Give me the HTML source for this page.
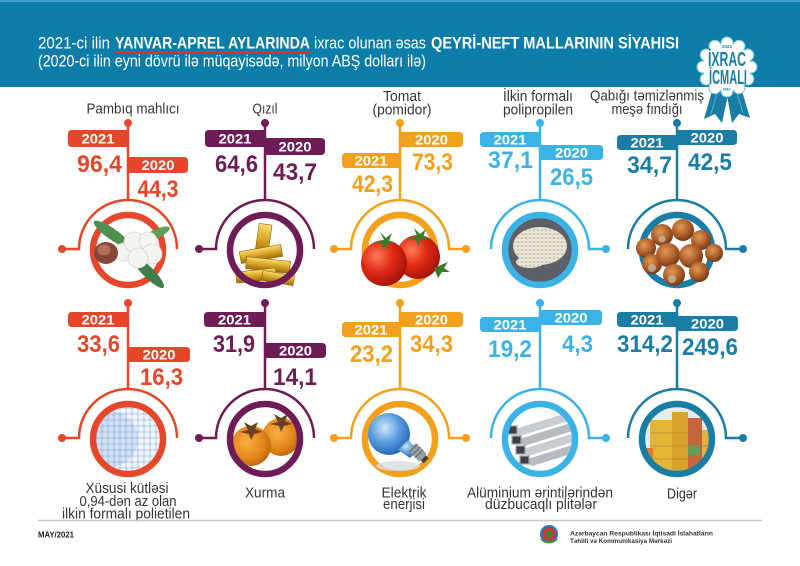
<!DOCTYPE html>
<html><head><meta charset="utf-8">
<style>
html,body{margin:0;padding:0;background:#fff;}
svg{display:block;}
text{font-family:"Liberation Sans","DejaVu Sans",sans-serif;}
.t{font-size:13.5px;font-weight:bold;fill:#fff;text-anchor:middle;}
.v{font-size:24.5px;font-weight:bold;text-anchor:middle;}
.l{font-size:14.5px;fill:#353535;text-anchor:middle;}
.h{font-size:17px;fill:#fff;}
</style></head><body>
<svg width="800" height="566" viewBox="0 0 800 566" xmlns="http://www.w3.org/2000/svg">
<defs>
<clipPath id="c4"><circle cx="540" cy="250" r="32"/></clipPath>
<clipPath id="c6"><circle cx="128" cy="439" r="32"/></clipPath>
<clipPath id="c7"><circle cx="265" cy="439" r="32"/></clipPath>
<clipPath id="c9"><circle cx="540" cy="439" r="32"/></clipPath>
<clipPath id="c10"><circle cx="677" cy="439" r="32"/></clipPath>
<linearGradient id="gold" x1="0" y1="0" x2="0" y2="1"><stop offset="0" stop-color="#f8dc70"/><stop offset="0.5" stop-color="#d9a526"/><stop offset="1" stop-color="#9c6c0c"/></linearGradient>
<radialGradient id="tom" cx="0.35" cy="0.35" r="0.7"><stop offset="0" stop-color="#ff7a55"/><stop offset="0.5" stop-color="#e02a14"/><stop offset="1" stop-color="#a5130a"/></radialGradient>
<radialGradient id="nut" cx="0.4" cy="0.35" r="0.7"><stop offset="0" stop-color="#e39a55"/><stop offset="0.6" stop-color="#a95a28"/><stop offset="1" stop-color="#6a3214"/></radialGradient>
<radialGradient id="pers" cx="0.4" cy="0.4" r="0.7"><stop offset="0" stop-color="#f7b040"/><stop offset="0.6" stop-color="#e4861a"/><stop offset="1" stop-color="#b45e0c"/></radialGradient>
<radialGradient id="bulb" cx="0.4" cy="0.35" r="0.7"><stop offset="0" stop-color="#cfe6fb"/><stop offset="0.5" stop-color="#5a9ee0"/><stop offset="1" stop-color="#1f5fb0"/></radialGradient>
<pattern id="pe" width="6" height="6" patternUnits="userSpaceOnUse"><rect width="6" height="6" fill="#c4d8ee"/><circle cx="3" cy="3" r="2.5" fill="#f3f7fc"/></pattern>
<pattern id="pp" width="4" height="4" patternUnits="userSpaceOnUse"><rect width="4" height="4" fill="#ebe6d8"/><circle cx="2" cy="2" r="1.3" fill="#cfc7b2"/></pattern>
</defs>

<!-- Header -->
<rect x="0" y="0" width="800" height="87" fill="#0b7da8"/>
<rect x="0" y="0" width="800" height="2" fill="#3f9dc4"/>
<text class="h" x="38" y="48.5" textLength="72" lengthAdjust="spacingAndGlyphs">2021-ci ilin</text>
<text class="h" x="115" y="48.5" font-weight="bold" textLength="195" lengthAdjust="spacingAndGlyphs">YANVAR-APREL AYLARINDA</text>
<rect x="115" y="51" width="195" height="2" fill="#e0302a"/>
<text class="h" x="314" y="48.5" textLength="112" lengthAdjust="spacingAndGlyphs">ixrac olunan əsas</text>
<text class="h" x="431" y="48.5" font-weight="bold" textLength="248" lengthAdjust="spacingAndGlyphs">QEYRİ-NEFT MALLARININ SİYAHISI</text>
<text class="h" x="38" y="66.5" textLength="388" lengthAdjust="spacingAndGlyphs">(2020-ci ilin eyni dövrü ilə müqayisədə, milyon ABŞ dolları ilə)</text>

<!-- Badge -->
<polygon points="714,84 729,90 722,123 715,114 704,119" fill="#1a7da6"/>
<polygon points="726,90 740,84 750,118 739,114 732,123" fill="#1a7da6"/>
<line x1="718" y1="90" x2="711" y2="114" stroke="#5aaed0" stroke-width="1"/>
<line x1="736" y1="90" x2="743" y2="113" stroke="#5aaed0" stroke-width="1"/>
<g fill="#7cc3e0">
<circle cx="727" cy="67" r="24.5"/>
<circle cx="727" cy="43" r="6.5"/><circle cx="739" cy="46.2" r="6.5"/><circle cx="747.8" cy="55" r="6.5"/><circle cx="751" cy="67" r="6.5"/><circle cx="747.8" cy="79" r="6.5"/><circle cx="739" cy="87.8" r="6.5"/><circle cx="727" cy="91" r="6.5"/><circle cx="715" cy="87.8" r="6.5"/><circle cx="706.2" cy="79" r="6.5"/><circle cx="703" cy="67" r="6.5"/><circle cx="706.2" cy="55" r="6.5"/><circle cx="715" cy="46.2" r="6.5"/>
</g>
<g fill="#fff">
<circle cx="727" cy="67" r="23.5"/>
<circle cx="727" cy="43" r="5.5"/><circle cx="739" cy="46.2" r="5.5"/><circle cx="747.8" cy="55" r="5.5"/><circle cx="751" cy="67" r="5.5"/><circle cx="747.8" cy="79" r="5.5"/><circle cx="739" cy="87.8" r="5.5"/><circle cx="727" cy="91" r="5.5"/><circle cx="715" cy="87.8" r="5.5"/><circle cx="706.2" cy="79" r="5.5"/><circle cx="703" cy="67" r="5.5"/><circle cx="706.2" cy="55" r="5.5"/><circle cx="715" cy="46.2" r="5.5"/>
</g>
<text x="727" y="48" font-size="4.5" font-weight="bold" fill="#1a7da6" text-anchor="middle">2021</text>
<text x="727" y="66" font-size="20" font-weight="bold" fill="#1a7da6" text-anchor="middle" textLength="38" lengthAdjust="spacingAndGlyphs">İXRAC</text>
<text x="728" y="84" font-size="20" font-weight="bold" fill="#1a7da6" text-anchor="middle" textLength="38" lengthAdjust="spacingAndGlyphs">İCMALI</text>
<text x="727" y="90.5" font-size="3.5" font-weight="bold" fill="#1a7da6" text-anchor="middle">MAY</text>

<!-- Row 1 labels -->
<text class="l" x="133" y="113.5" textLength="93" lengthAdjust="spacingAndGlyphs">Pambıq mahlıcı</text>
<text class="l" x="265" y="113.5" textLength="25" lengthAdjust="spacingAndGlyphs">Qızıl</text>
<text class="l" x="402" y="101" textLength="38" lengthAdjust="spacingAndGlyphs">Tomat</text>
<text class="l" x="402" y="114.5" textLength="59" lengthAdjust="spacingAndGlyphs">(pomidor)</text>
<text class="l" x="538" y="101" textLength="70" lengthAdjust="spacingAndGlyphs">İlkin formalı</text>
<text class="l" x="538" y="114.5" textLength="70" lengthAdjust="spacingAndGlyphs">polipropilen</text>
<text class="l" x="647" y="100.5" textLength="114" lengthAdjust="spacingAndGlyphs">Qabığı təmizlənmiş</text>
<text class="l" x="647" y="114" textLength="71" lengthAdjust="spacingAndGlyphs">meşə fındığı</text>

<!-- ===== ROW 1 ===== -->
<!-- Col1 red -->
<g fill="#e6472b" stroke="none">
<circle cx="128" cy="123" r="4"/>
<path d="M128,130 H72 Q68,130 68,134 V143 Q68,147 72,147 H128Z"/>
<path d="M128,157 H184 Q188,157 188,161 V169 Q188,173 184,173 H128Z"/>
<circle cx="62" cy="249" r="4"/>
</g>
<line x1="128" y1="123" x2="128" y2="200" stroke="#e6472b" stroke-width="2.5"/>
<path d="M62,249 H79 A49,49 0 0 1 177,249" fill="none" stroke="#e6472b" stroke-width="2.5"/>
<text class="t" x="98" y="143.5" textLength="33" lengthAdjust="spacingAndGlyphs">2021</text>
<text class="t" x="158" y="169.8" textLength="33" lengthAdjust="spacingAndGlyphs">2020</text>
<text class="v" x="99.5" y="172" fill="#e6472b" textLength="45" lengthAdjust="spacingAndGlyphs">96,4</text>
<text class="v" x="158" y="197" fill="#e6472b" textLength="41" lengthAdjust="spacingAndGlyphs">44,3</text>
<circle cx="128" cy="250" r="32" fill="#fff"/>
<circle cx="128" cy="250" r="35" fill="none" stroke="#e6472b" stroke-width="6.5"/>
<ellipse cx="112" cy="234" rx="22" ry="5.5" transform="rotate(35 112 234)" fill="#4f8f4f"/>
<ellipse cx="148" cy="272" rx="22" ry="5.5" transform="rotate(45 148 272)" fill="#3f7d48"/>
<ellipse cx="156" cy="234" rx="15" ry="4.5" transform="rotate(-25 156 234)" fill="#5e9e5a"/>
<g fill="#f4f4f1" stroke="#d6d6d0" stroke-width="0.8">
<circle cx="124" cy="252" r="9"/><circle cx="134" cy="242" r="10"/><circle cx="148" cy="241" r="9"/><circle cx="152" cy="254" r="10"/><circle cx="138" cy="258" r="10"/>
</g>
<ellipse cx="106" cy="253" rx="12" ry="11" fill="#874536"/>
<ellipse cx="104" cy="250" rx="6.5" ry="5.5" fill="#b36f58"/>

<!-- Col2 purple -->
<g fill="#6e1c55">
<circle cx="265" cy="123" r="4"/>
<path d="M265,130 H209 Q205,130 205,134 V143 Q205,147 209,147 H265Z"/>
<path d="M265,138 H321 Q325,138 325,142 V151 Q325,155 321,155 H265Z"/>
<circle cx="199" cy="249" r="4"/>
</g>
<line x1="265" y1="123" x2="265" y2="200" stroke="#6e1c55" stroke-width="2.5"/>
<path d="M199,249 H216 A49,49 0 0 1 314,249" fill="none" stroke="#6e1c55" stroke-width="2.5"/>
<text class="t" x="235" y="143.5" textLength="33" lengthAdjust="spacingAndGlyphs">2021</text>
<text class="t" x="295" y="151.5" textLength="33" lengthAdjust="spacingAndGlyphs">2020</text>
<text class="v" x="236.5" y="172" fill="#6e1c55" textLength="43" lengthAdjust="spacingAndGlyphs">64,6</text>
<text class="v" x="295" y="180" fill="#6e1c55" textLength="44" lengthAdjust="spacingAndGlyphs">43,7</text>
<circle cx="265" cy="250" r="32" fill="#fff"/>
<g stroke="#8a6008" stroke-width="0.6" fill="url(#gold)">
<rect x="257" y="224" width="13" height="30" transform="rotate(8 263 239)"/>
<rect x="240" y="248" width="42" height="12" transform="rotate(-10 261 254)"/>
<rect x="246" y="259" width="44" height="12" transform="rotate(6 268 265)"/>
<rect x="236" y="270" width="40" height="11" transform="rotate(-6 256 275)"/>
<rect x="262" y="273" width="32" height="10" transform="rotate(10 278 278)"/>
</g>
<circle cx="265" cy="250" r="35" fill="none" stroke="#6e1c55" stroke-width="6.5"/>

<!-- Col3 orange -->
<g fill="#f3a01c">
<circle cx="400" cy="123" r="4"/>
<path d="M400,132 H459 Q463,132 463,136 V143 Q463,147 459,147 H400Z"/>
<path d="M400,153 H346 Q342,153 342,157 V164 Q342,168 346,168 H400Z"/>
<circle cx="334" cy="249" r="4"/><circle cx="466" cy="249" r="4"/>
</g>
<line x1="400" y1="123" x2="400" y2="200" stroke="#f3a01c" stroke-width="2.5"/>
<path d="M334,249 H351 A49,49 0 0 1 449,249 H466" fill="none" stroke="#f3a01c" stroke-width="2.5"/>
<text class="t" x="431.5" y="144.5" textLength="33" lengthAdjust="spacingAndGlyphs">2020</text>
<text class="t" x="371" y="165.5" textLength="33" lengthAdjust="spacingAndGlyphs">2021</text>
<text class="v" x="432.5" y="170" fill="#f3a01c" textLength="41" lengthAdjust="spacingAndGlyphs">73,3</text>
<text class="v" x="372.5" y="192" fill="#f3a01c" textLength="41" lengthAdjust="spacingAndGlyphs">42,3</text>
<circle cx="400" cy="250" r="32" fill="#fff"/>
<circle cx="400" cy="250" r="35" fill="none" stroke="#f3a01c" stroke-width="6.5"/>
<circle cx="418" cy="257" r="22" fill="url(#tom)"/>
<circle cx="384" cy="263" r="23" fill="url(#tom)"/>
<g fill="#3a7a2a">
<polygon points="384,240 380,232 386,238 392,233 389,241 396,243 387,244 384,250 382,244 374,243"/>
<polygon points="417,236 414,228 420,234 426,229 423,237 430,239 421,240 418,246 416,240 408,239"/>
<polygon points="434,268 448,262 444,268 450,272 442,272 438,278"/>
</g>

<!-- Col4 light blue -->
<g fill="#3bb3e6">
<circle cx="540" cy="123" r="4"/>
<path d="M540,132 H484 Q480,132 480,136 V143 Q480,147 484,147 H540Z"/>
<path d="M540,145 H599 Q603,145 603,149 V156 Q603,160 599,160 H540Z"/>
<circle cx="606" cy="249" r="4"/>
</g>
<line x1="540" y1="123" x2="540" y2="200" stroke="#3bb3e6" stroke-width="2.5"/>
<path d="M491,249 A49,49 0 0 1 589,249 H606" fill="none" stroke="#3bb3e6" stroke-width="2.5"/>
<text class="t" x="510" y="144.5" textLength="33" lengthAdjust="spacingAndGlyphs">2021</text>
<text class="t" x="571.5" y="157.5" textLength="33" lengthAdjust="spacingAndGlyphs">2020</text>
<text class="v" x="510.5" y="168" fill="#3bb3e6" textLength="45" lengthAdjust="spacingAndGlyphs">37,1</text>
<text class="v" x="571.5" y="185" fill="#3bb3e6" textLength="43" lengthAdjust="spacingAndGlyphs">26,5</text>
<g clip-path="url(#c4)">
<circle cx="540" cy="250" r="32" fill="#5b6068"/>
<ellipse cx="540" cy="246" rx="27" ry="19" fill="url(#pp)"/>
<ellipse cx="530" cy="262" rx="14" ry="6" fill="url(#pp)"/>
</g>
<circle cx="540" cy="250" r="35" fill="none" stroke="#3bb3e6" stroke-width="6.5"/>

<!-- Col5 dark blue -->
<g fill="#1a7da6">
<circle cx="677" cy="123" r="4"/>
<path d="M677,135 H621 Q617,135 617,139 V146 Q617,150 621,150 H677Z"/>
<path d="M677,130 H733 Q737,130 737,134 V141 Q737,145 733,145 H677Z"/>
<circle cx="743" cy="249" r="4"/>
</g>
<line x1="677" y1="123" x2="677" y2="200" stroke="#1a7da6" stroke-width="2.5"/>
<path d="M628,249 A49,49 0 0 1 726,249 H743" fill="none" stroke="#1a7da6" stroke-width="2.5"/>
<text class="t" x="647" y="147.5" textLength="33" lengthAdjust="spacingAndGlyphs">2021</text>
<text class="t" x="707" y="142.5" textLength="33" lengthAdjust="spacingAndGlyphs">2020</text>
<text class="v" x="649.5" y="173" fill="#1a7da6" textLength="45" lengthAdjust="spacingAndGlyphs">34,7</text>
<text class="v" x="710" y="170" fill="#1a7da6" textLength="44" lengthAdjust="spacingAndGlyphs">42,5</text>
<circle cx="677" cy="250" r="32" fill="#fff"/>
<circle cx="677" cy="250" r="35" fill="none" stroke="#1a7da6" stroke-width="6.5"/>
<g fill="url(#nut)">
<circle cx="646" cy="248" r="10"/><circle cx="662" cy="235" r="11"/><circle cx="683" cy="230" r="11"/><circle cx="701" cy="240" r="10"/><circle cx="714" cy="253" r="9"/>
<circle cx="652" cy="264" r="10"/><circle cx="668" cy="255" r="12"/><circle cx="691" cy="256" r="12"/><circle cx="674" cy="275" r="11"/><circle cx="699" cy="272" r="10"/>
</g>
<g fill="#c9b69a" opacity="0.8">
<circle cx="652" cy="268" r="4"/><circle cx="672" cy="279" r="4"/><circle cx="662" cy="239" r="3.5"/>
</g>

<!-- ===== ROW 2 ===== -->
<!-- Col1 red -->
<g fill="#e6472b">
<circle cx="128" cy="303" r="4"/>
<path d="M128,312 H72 Q68,312 68,316 V323 Q68,327 72,327 H128Z"/>
<path d="M128,347 H186 Q190,347 190,351 V358 Q190,362 186,362 H128Z"/>
<circle cx="62" cy="438" r="4"/>
</g>
<line x1="128" y1="303" x2="128" y2="389" stroke="#e6472b" stroke-width="2.5"/>
<path d="M62,438 H79 A49,49 0 0 1 177,438" fill="none" stroke="#e6472b" stroke-width="2.5"/>
<text class="t" x="98" y="324.5" textLength="33" lengthAdjust="spacingAndGlyphs">2021</text>
<text class="t" x="159" y="359.5" textLength="33" lengthAdjust="spacingAndGlyphs">2020</text>
<text class="v" x="98.5" y="352" fill="#e6472b" textLength="43" lengthAdjust="spacingAndGlyphs">33,6</text>
<text class="v" x="161.5" y="385" fill="#e6472b" textLength="43" lengthAdjust="spacingAndGlyphs">16,3</text>
<g clip-path="url(#c6)">
<circle cx="128" cy="439" r="32" fill="url(#pe)"/>
<circle cx="110" cy="439" r="28" fill="#6f9bd3" opacity="0.25"/>
</g>
<circle cx="128" cy="439" r="35" fill="none" stroke="#e6472b" stroke-width="6.5"/>

<!-- Col2 purple -->
<g fill="#6e1c55">
<circle cx="265" cy="303" r="4"/>
<path d="M265,312 H208 Q204,312 204,316 V323 Q204,327 208,327 H265Z"/>
<path d="M265,343 H322 Q326,343 326,347 V354 Q326,358 322,358 H265Z"/>
<circle cx="199" cy="438" r="4"/>
</g>
<line x1="265" y1="303" x2="265" y2="389" stroke="#6e1c55" stroke-width="2.5"/>
<path d="M199,438 H216 A49,49 0 0 1 314,438" fill="none" stroke="#6e1c55" stroke-width="2.5"/>
<text class="t" x="234.5" y="324.5" textLength="33" lengthAdjust="spacingAndGlyphs">2021</text>
<text class="t" x="295.5" y="355.5" textLength="33" lengthAdjust="spacingAndGlyphs">2020</text>
<text class="v" x="234" y="352" fill="#6e1c55" textLength="42" lengthAdjust="spacingAndGlyphs">31,9</text>
<text class="v" x="295" y="385" fill="#6e1c55" textLength="44" lengthAdjust="spacingAndGlyphs">14,1</text>
<circle cx="265" cy="439" r="32" fill="#fff"/>
<g clip-path="url(#c7)">
<circle cx="281" cy="437" r="19" fill="url(#pers)"/>
<circle cx="251" cy="446" r="20" fill="url(#pers)"/>
<polygon points="281,418 274,414 278,422 270,424 279,426 281,432 284,426 292,424 285,421 288,414" fill="#6a4020"/>
<polygon points="251,426 244,422 248,430 240,432 249,434 251,440 254,434 262,432 255,429 258,422" fill="#6a4020"/>
</g>
<circle cx="265" cy="439" r="35" fill="none" stroke="#6e1c55" stroke-width="6.5"/>

<!-- Col3 orange -->
<g fill="#f3a01c">
<circle cx="400" cy="303" r="4"/>
<path d="M400,312 H459 Q463,312 463,316 V323 Q463,327 459,327 H400Z"/>
<path d="M400,322 H346 Q342,322 342,326 V333 Q342,337 346,337 H400Z"/>
<circle cx="334" cy="438" r="4"/><circle cx="466" cy="438" r="4"/>
</g>
<line x1="400" y1="303" x2="400" y2="389" stroke="#f3a01c" stroke-width="2.5"/>
<path d="M334,438 H351 A49,49 0 0 1 449,438 H466" fill="none" stroke="#f3a01c" stroke-width="2.5"/>
<text class="t" x="431.5" y="324.5" textLength="33" lengthAdjust="spacingAndGlyphs">2020</text>
<text class="t" x="371" y="334.5" textLength="33" lengthAdjust="spacingAndGlyphs">2021</text>
<text class="v" x="431.5" y="352" fill="#f3a01c" textLength="43" lengthAdjust="spacingAndGlyphs">34,3</text>
<text class="v" x="371.5" y="362" fill="#f3a01c" textLength="43" lengthAdjust="spacingAndGlyphs">23,2</text>
<circle cx="400" cy="439" r="32" fill="#fff"/>
<circle cx="400" cy="439" r="35" fill="none" stroke="#f3a01c" stroke-width="6.5"/>
<ellipse cx="398" cy="466" rx="22" ry="5" fill="#d8dde4" opacity="0.8"/>
<circle cx="389" cy="434" r="21" fill="url(#bulb)"/>
<polygon points="398,450 408,440 418,450 410,458" fill="url(#bulb)"/>
<g transform="rotate(45 418 452)">
<rect x="410" y="447" width="16" height="11" rx="2" fill="#9aa0a6"/>
<line x1="412" y1="447" x2="412" y2="458" stroke="#5c6166" stroke-width="1"/>
<line x1="416" y1="447" x2="416" y2="458" stroke="#5c6166" stroke-width="1"/>
<line x1="420" y1="447" x2="420" y2="458" stroke="#5c6166" stroke-width="1"/>
<rect x="426" y="449" width="4" height="7" fill="#3d4144"/>
</g>

<!-- Col4 light blue -->
<g fill="#3bb3e6">
<circle cx="540" cy="303" r="4"/>
<path d="M540,317 H484 Q480,317 480,321 V328 Q480,332 484,332 H540Z"/>
<path d="M540,310 H598 Q602,310 602,314 V321 Q602,325 598,325 H540Z"/>
<circle cx="606" cy="438" r="4"/>
</g>
<line x1="540" y1="303" x2="540" y2="389" stroke="#3bb3e6" stroke-width="2.5"/>
<path d="M491,438 A49,49 0 0 1 589,438 H606" fill="none" stroke="#3bb3e6" stroke-width="2.5"/>
<text class="t" x="510" y="329.5" textLength="33" lengthAdjust="spacingAndGlyphs">2021</text>
<text class="t" x="571" y="322.5" textLength="33" lengthAdjust="spacingAndGlyphs">2020</text>
<text class="v" x="510" y="357" fill="#3bb3e6" textLength="44" lengthAdjust="spacingAndGlyphs">19,2</text>
<text class="v" x="577.5" y="352" fill="#3bb3e6" textLength="31" lengthAdjust="spacingAndGlyphs">4,3</text>
<circle cx="540" cy="439" r="32" fill="#fff"/>
<g clip-path="url(#c9)">
<polygon points="512,430 570,412 578,418 520,436" fill="#c8cdd2"/>
<polygon points="516,440 574,422 582,428 524,446" fill="#b5bbc1"/>
<polygon points="520,450 578,432 586,438 528,456" fill="#c8cdd2"/>
<polygon points="524,460 582,442 590,448 532,466" fill="#b5bbc1"/>
<g fill="#3c4045" stroke="#9aa0a6" stroke-width="1.2">
<rect x="508" y="426" width="9" height="8"/><rect x="512" y="436" width="9" height="8"/><rect x="516" y="446" width="9" height="8"/><rect x="520" y="456" width="9" height="8"/>
</g>
</g>
<circle cx="540" cy="439" r="35" fill="none" stroke="#3bb3e6" stroke-width="6.5"/>

<!-- Col5 dark blue -->
<g fill="#1a7da6">
<circle cx="677" cy="303" r="4"/>
<path d="M677,312 H621 Q617,312 617,316 V323 Q617,327 621,327 H677Z"/>
<path d="M677,316 H734 Q738,316 738,320 V327 Q738,331 734,331 H677Z"/>
<circle cx="743" cy="438" r="4"/>
</g>
<line x1="677" y1="303" x2="677" y2="389" stroke="#1a7da6" stroke-width="2.5"/>
<path d="M628,438 A49,49 0 0 1 726,438 H743" fill="none" stroke="#1a7da6" stroke-width="2.5"/>
<text class="t" x="647" y="324.5" textLength="33" lengthAdjust="spacingAndGlyphs">2021</text>
<text class="t" x="707.5" y="328.5" textLength="33" lengthAdjust="spacingAndGlyphs">2020</text>
<text class="v" x="645" y="352" fill="#1a7da6" textLength="56" lengthAdjust="spacingAndGlyphs">314,2</text>
<text class="v" x="710" y="355" fill="#1a7da6" textLength="56" lengthAdjust="spacingAndGlyphs">249,6</text>
<g clip-path="url(#c10)">
<rect x="640" y="400" width="80" height="80" fill="#e4ecf2"/>
<rect x="650" y="420" width="22" height="52" fill="#e6b535"/>
<rect x="672" y="412" width="16" height="60" fill="#d9a22c"/>
<rect x="688" y="418" width="14" height="54" fill="#c7653a"/>
<rect x="702" y="430" width="14" height="42" fill="#e0b040"/>
<rect x="688" y="445" width="12" height="10" fill="#6a9a5a"/>
<rect x="643" y="448" width="10" height="24" fill="#d87a30"/>
<g stroke="#a77a20" stroke-width="0.6">
<line x1="650" y1="433" x2="702" y2="433"/><line x1="650" y1="446" x2="716" y2="446"/><line x1="650" y1="459" x2="716" y2="459"/>
</g>
<rect x="640" y="470" width="80" height="12" fill="#b9a98a"/>
</g>
<circle cx="677" cy="439" r="35" fill="none" stroke="#1a7da6" stroke-width="6.5"/>

<!-- Row 2 labels -->
<text class="l" x="127" y="493" textLength="83" lengthAdjust="spacingAndGlyphs">Xüsusi kütləsi</text>
<text class="l" x="128" y="506" textLength="97" lengthAdjust="spacingAndGlyphs">0,94-dən az olan</text>
<text class="l" x="126" y="518.5" textLength="128" lengthAdjust="spacingAndGlyphs">ilkin formalı polietilen</text>
<text class="l" x="265" y="497.5" textLength="40" lengthAdjust="spacingAndGlyphs">Xurma</text>
<text class="l" x="404" y="497.5" textLength="45" lengthAdjust="spacingAndGlyphs">Elektrik</text>
<text class="l" x="404" y="509" textLength="42" lengthAdjust="spacingAndGlyphs">enerjisi</text>
<text class="l" x="540" y="497.5" textLength="146" lengthAdjust="spacingAndGlyphs">Alüminium ərintilərindən</text>
<text class="l" x="541" y="509" textLength="112" lengthAdjust="spacingAndGlyphs">düzbucaqlı plitələr</text>
<text class="l" x="682" y="498.5" textLength="30" lengthAdjust="spacingAndGlyphs">Digər</text>

<!-- Footer -->
<line x1="38" y1="520.5" x2="762" y2="520.5" stroke="#c8c8c8" stroke-width="1.5"/>
<text x="38" y="537.5" font-size="8.5" font-weight="bold" fill="#222" textLength="36" lengthAdjust="spacingAndGlyphs">MAY/2021</text>
<circle cx="549" cy="534" r="9" fill="#2f73b8"/>
<circle cx="549" cy="534" r="6.5" fill="#d8342c"/>
<circle cx="549" cy="534" r="3.5" fill="#2d8a3e"/>
<path d="M541,539 Q549,546 557,539" fill="none" stroke="#4a8a3a" stroke-width="2"/>
<text x="570" y="535.5" font-size="6.5" font-weight="bold" fill="#333" textLength="143" lengthAdjust="spacingAndGlyphs">Azərbaycan Respublikası İqtisadi İslahatların</text>
<text x="570" y="543" font-size="6.5" font-weight="bold" fill="#333" textLength="102" lengthAdjust="spacingAndGlyphs">Təhlili və Kommunikasiya Mərkəzi</text>
</svg>
</body></html>
